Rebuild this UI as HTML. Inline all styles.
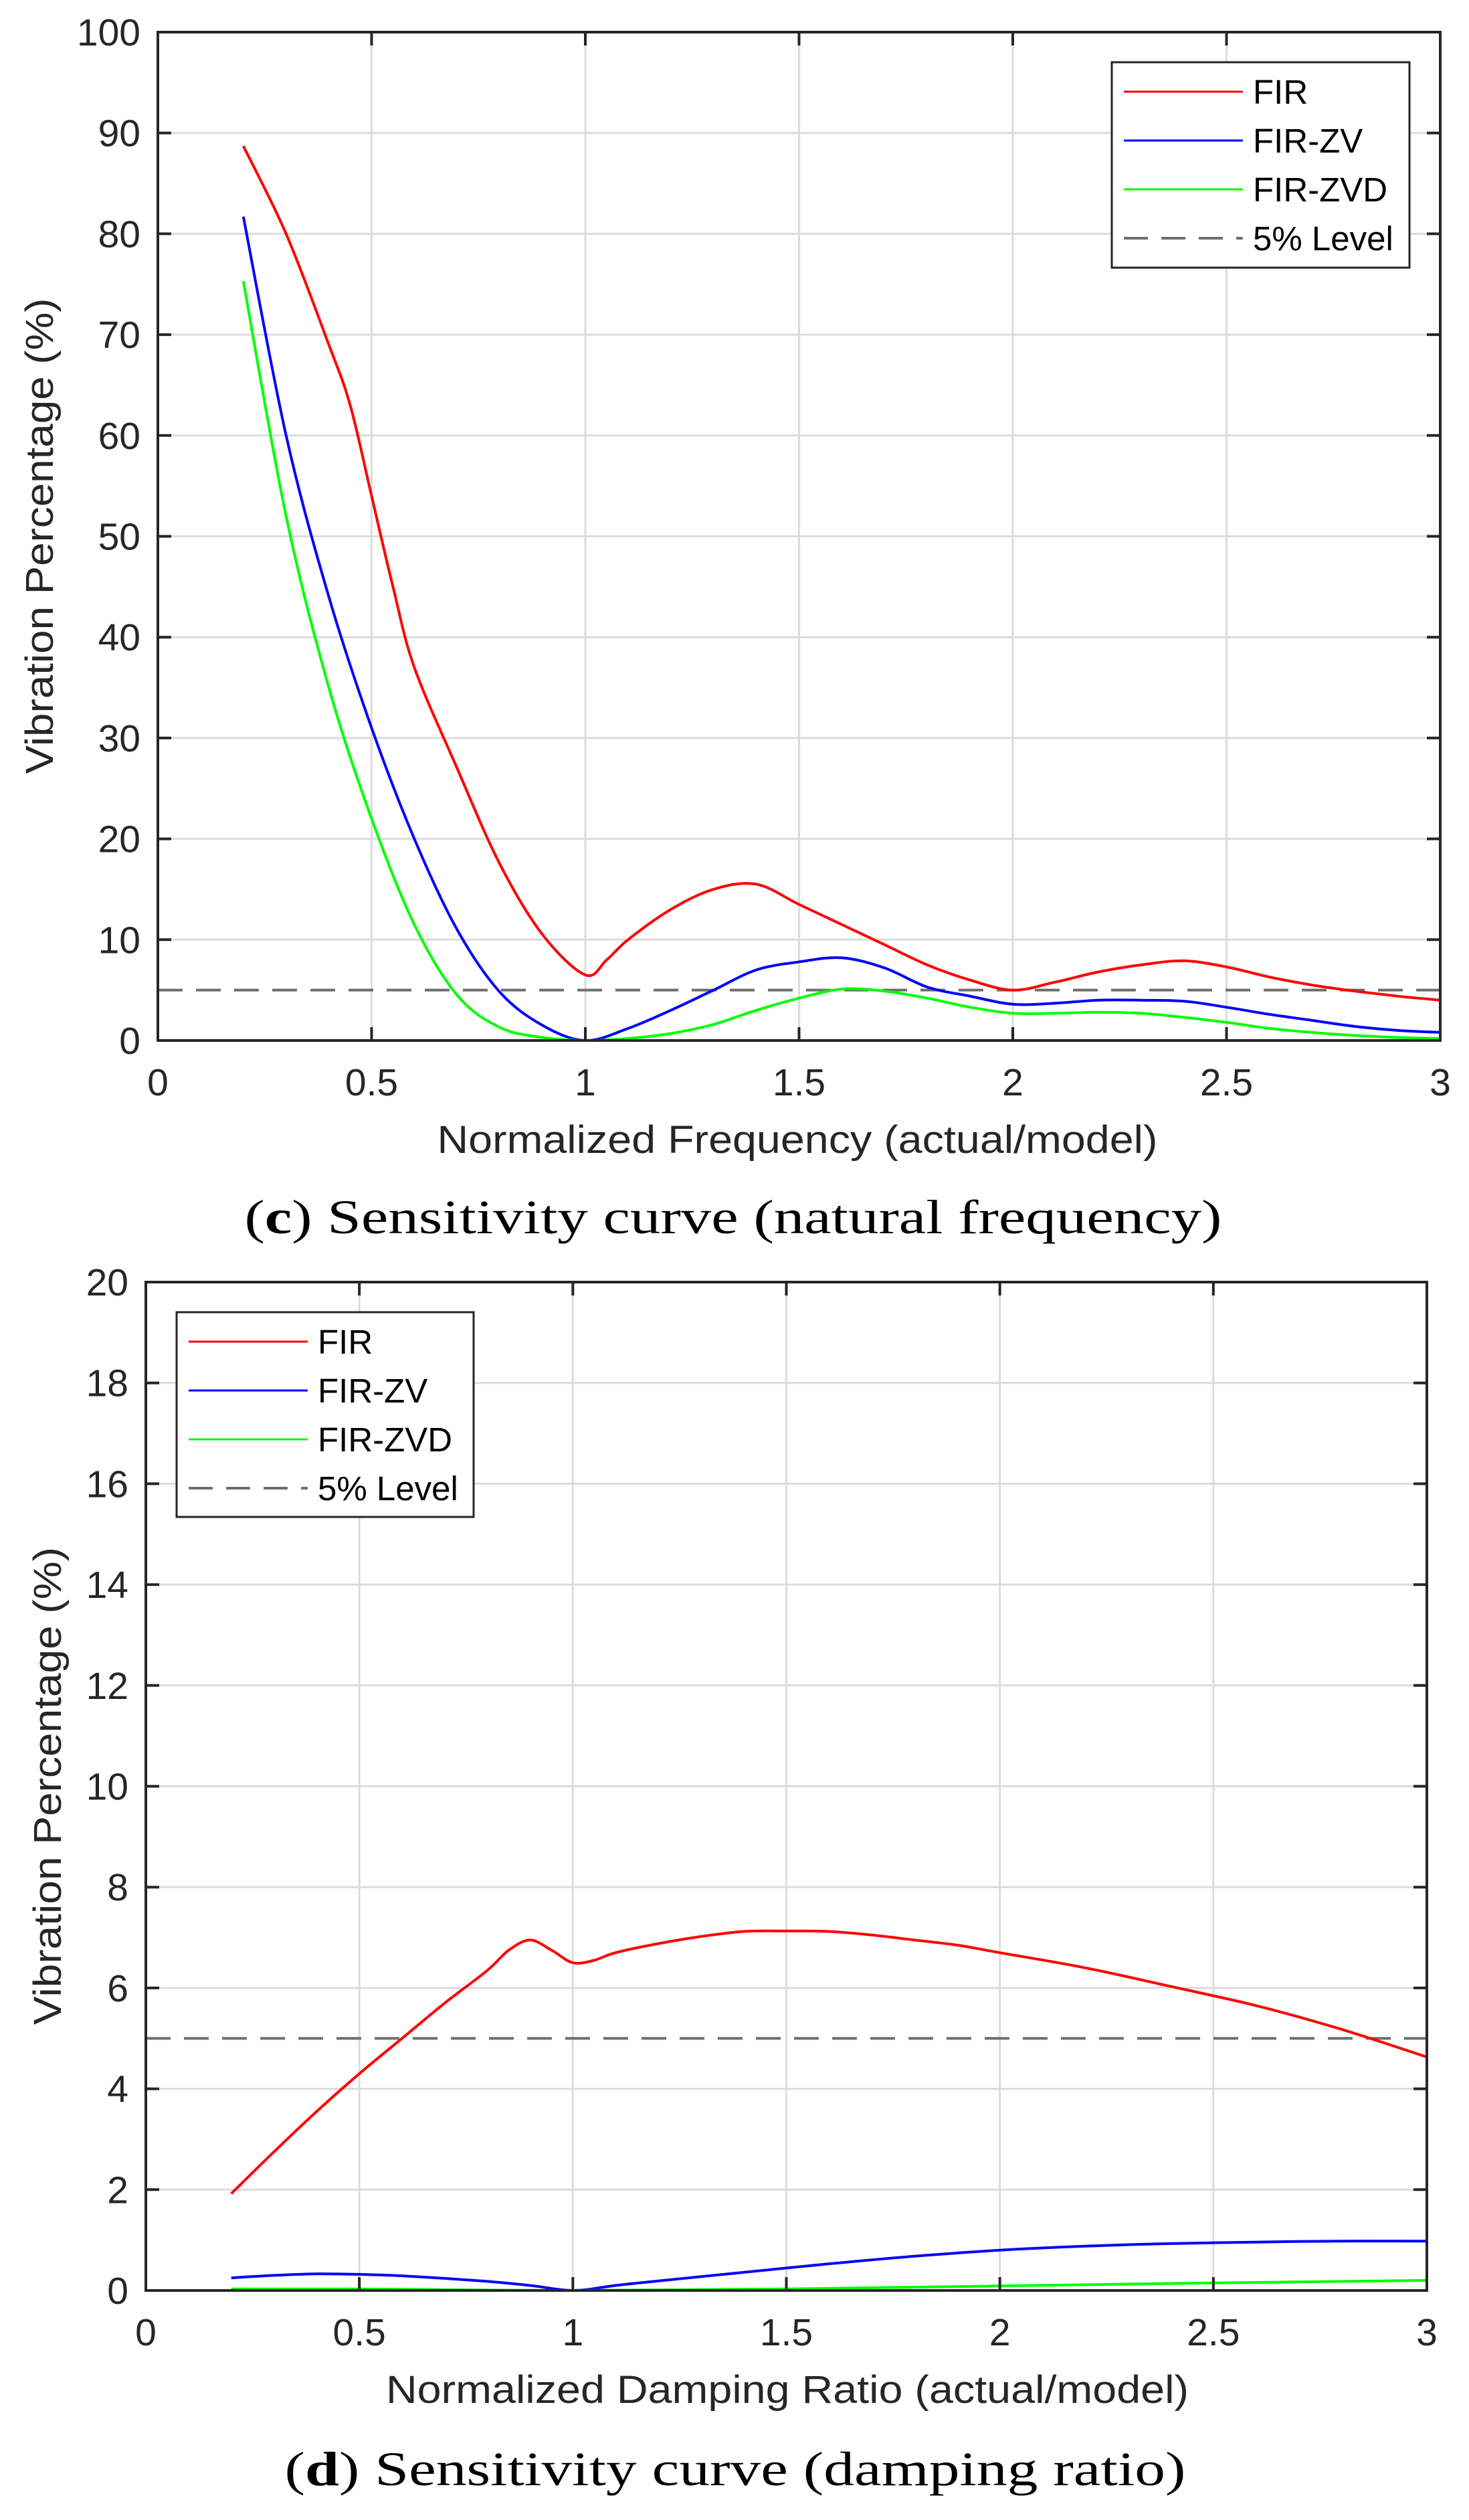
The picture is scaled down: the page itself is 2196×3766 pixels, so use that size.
<!DOCTYPE html>
<html><head><meta charset="utf-8"><style>
html,body{margin:0;padding:0;background:#fff;}
svg{display:block;}
</style></head>
<body>
<svg id="fig" width="2196" height="3766" xmlns="http://www.w3.org/2000/svg" font-family="'Liberation Sans', sans-serif"></svg>
<script>
// ---- Chart (c) data: natural frequency ----
const cX = [0.2,0.3,0.4,0.45,0.5,0.55,0.6,0.7,0.8,0.9,1.0,1.05,1.1,1.2,1.3,1.4,1.5,1.6,1.7,1.8,1.9,2.0,2.1,2.2,2.3,2.4,2.5,2.6,2.7,2.8,2.9,3.0];
const cFIR = [88.7,80,69,63,54,45,37,27,17.5,10.5,6.5,8,10,13,15,15.5,13.5,11.5,9.5,7.5,6,5,5.8,6.8,7.5,7.9,7.3,6.3,5.5,4.9,4.4,4.0];
const cXb = [0.2,0.3,0.4,0.5,0.6,0.7,0.8,0.9,1.0,1.1,1.2,1.3,1.4,1.5,1.6,1.7,1.8,1.9,2.0,2.1,2.2,2.3,2.4,2.5,2.6,2.7,2.8,2.9,3.0];
const cZV = [81.7,60,44,31,20,11,4.8,1.5,0,1.2,3,5,7,7.8,8.2,7.2,5.3,4.4,3.6,3.7,4.0,4.0,3.9,3.3,2.6,2.0,1.4,1.0,0.8];
const cZVD = [75.3,52,35,22,11.5,4.5,1.3,0.3,0,0.2,0.7,1.6,3,4.2,5.1,4.9,4.2,3.3,2.7,2.7,2.8,2.7,2.3,1.8,1.2,0.8,0.5,0.3,0.2];
const cYTicks = [0,10,20,30,40,50,60,70,80,90,100];
const xTicks = [0,0.5,1,1.5,2,2.5,3];
const xTickLabels = ["0","0.5","1","1.5","2","2.5","3"];
// ---- Chart (d) data: damping ratio ----
const dXa = [0.2,0.3,0.4,0.5,0.6,0.7,0.8,0.85,0.9,0.95,1.0,1.05,1.1,1.2,1.3,1.4,1.5,1.6,1.7,1.8,1.9,2.0,2.2,2.4,2.6,2.8,3.0];
const dFIR = [1.92,2.75,3.55,4.3,5.0,5.7,6.35,6.75,6.95,6.75,6.5,6.55,6.7,6.88,7.02,7.12,7.13,7.12,7.05,6.95,6.85,6.7,6.4,6.03,5.65,5.18,4.63];
const dXb = [0.2,0.3,0.4,0.5,0.6,0.7,0.8,0.9,1.0,1.1,1.2,1.4,1.6,1.8,2.0,2.2,2.4,2.6,2.8,3.0];
const dZV = [0.25,0.3,0.33,0.32,0.29,0.24,0.18,0.1,0,0.1,0.19,0.36,0.53,0.68,0.8,0.88,0.93,0.96,0.98,0.98];
const dXc = [0.2,0.5,1.0,1.5,2.0,2.5,3.0];
const dZVD = [0.03,0.03,0,0.03,0.09,0.15,0.2];
const dYTicks = [0,2,4,6,8,10,12,14,16,18,20];
const levelValue = 5;
const legendNames = ["FIR","FIR-ZV","FIR-ZVD","5% Level"];

const NS = "http://www.w3.org/2000/svg";
const svg = document.getElementById('fig');
function el(tag, attrs, parent, text){
  const e = document.createElementNS(NS, tag);
  for (const k in attrs) e.setAttribute(k, attrs[k]);
  if (text !== undefined) e.textContent = text;
  (parent||svg).appendChild(e);
  return e;
}
function smoothPath(pts){
  let d = "M"+pts[0][0].toFixed(1)+","+pts[0][1].toFixed(1);
  for (let i=0;i<pts.length-1;i++){
    const p0=pts[Math.max(0,i-1)],p1=pts[i],p2=pts[i+1],p3=pts[Math.min(pts.length-1,i+2)];
    const c1x=p1[0]+(p2[0]-p0[0])/6,c1y=p1[1]+(p2[1]-p0[1])/6;
    const c2x=p2[0]-(p3[0]-p1[0])/6,c2y=p2[1]-(p3[1]-p1[1])/6;
    d+=" C"+c1x.toFixed(1)+","+c1y.toFixed(1)+" "+c2x.toFixed(1)+","+c2y.toFixed(1)+" "+p2[0].toFixed(1)+","+p2[1].toFixed(1);
  }
  return d;
}

function chart(cfg){
  const g = el('g',{});
  
  
  const L=cfg.L,R=cfg.R,T=cfg.T,B=cfg.B,ymax=cfg.ymax;
  const sx = v => L + (v/3)*(R-L);
  const sy = v => B - (v/ymax)*(B-T);
  el('rect',{x:L,y:T,width:R-L,height:B-T,fill:'#fff'},g);
  // grid
  xTicks.forEach((t,i)=>{
    if(i>0 && i<xTicks.length-1){
      const l=el('line',{x1:sx(t),x2:sx(t),y1:T,y2:B,stroke:'#dcdcdc','stroke-width':3},g);
      
      
    }
  });
  cfg.yticks.forEach((t,i)=>{
    if(i>0 && i<cfg.yticks.length-1){
      const l=el('line',{x1:L,x2:R,y1:sy(t),y2:sy(t),stroke:'#dcdcdc','stroke-width':3},g);
      
      
    }
  });
  // level line
  const lv=el('line',{x1:L,x2:R,y1:sy(levelValue),y2:sy(levelValue),stroke:'#6e6e6e','stroke-width':4,'stroke-dasharray':'37 20'},g);
  
  
  // series
  cfg.series.forEach(s=>{
    const pts = s.x.map((xv,i)=>[sx(xv),sy(s.y[i])]);
    const p=el('path',{d:smoothPath(pts),fill:'none',stroke:s.color,'stroke-width':4,'stroke-linejoin':'round'},g);
    
    
  });
  // ticks
  xTicks.forEach((t,i)=>{
    el('line',{x1:sx(t),x2:sx(t),y1:B,y2:B-20,stroke:'#262626','stroke-width':4},g);
    el('line',{x1:sx(t),x2:sx(t),y1:T,y2:T+20,stroke:'#262626','stroke-width':4},g);
    const tx=el('text',{x:sx(t),y:B+82,'font-size':57,fill:'#262626','text-anchor':'middle'},g,xTickLabels[i]);
    
    
  });
  cfg.yticks.forEach(t=>{
    el('line',{x1:L,x2:L+20,y1:sy(t),y2:sy(t),stroke:'#262626','stroke-width':4},g);
    el('line',{x1:R,x2:R-20,y1:sy(t),y2:sy(t),stroke:'#262626','stroke-width':4},g);
    const ty=el('text',{x:L-26,y:sy(t)+20,'font-size':57,fill:'#262626','text-anchor':'end'},g,String(t));
    
    
  });
  const ax=el('rect',{x:L,y:T,width:R-L,height:B-T,fill:'none',stroke:'#262626','stroke-width':4},g);
  
  
  // axis labels
  const xl=el('text',{x:cfg.xlx,y:cfg.xly,'font-size':58,fill:'#262626','text-anchor':'middle',textLength:cfg.xlw,lengthAdjust:'spacingAndGlyphs'},g,cfg.xlabel);
  
  
  const yl=el('text',{x:0,y:0,'font-size':58,fill:'#262626','text-anchor':'middle',textLength:cfg.ylw,lengthAdjust:'spacingAndGlyphs',transform:'translate('+cfg.ylx+','+cfg.yly+') rotate(-90)'},g,'Vibration Percentage (%)');
  
  
  // legend
  const lg=el('g',{},g);
  
  
  el('rect',{x:cfg.lgx,y:cfg.lgy,width:cfg.lgw,height:cfg.lgh,fill:'#fff',stroke:'#262626','stroke-width':3},lg);
  const colors=['#ff0000','#0000ff','#00ff00','#6e6e6e'];
  legendNames.forEach((n,i)=>{
    const y=cfg.lgy+44+i*73;
    const ln=el('line',{x1:cfg.lgx+18,x2:cfg.lgx+196,y1:y,y2:y,stroke:colors[i],'stroke-width':i==3?4:3},lg);
    if(i==3) ln.setAttribute('stroke-dasharray','36 20');
    
    
    const t=el('text',{x:cfg.lgx+211,y:y+18,'font-size':51,fill:'#000'},lg,n);
    
    
  });
  // caption
  const cap=el('text',{x:cfg.capx,y:cfg.capy,'font-size':72,fill:'#000','text-anchor':'middle','font-family':"'Liberation Serif', serif",textLength:cfg.capw,lengthAdjust:'spacingAndGlyphs'},g);
  const tb=document.createElementNS(NS,'tspan'); tb.textContent='('; cap.appendChild(tb);
  const b=document.createElementNS(NS,'tspan'); b.setAttribute('font-weight','bold'); b.textContent=cfg.letter; cap.appendChild(b);
  const rest=document.createElementNS(NS,'tspan'); rest.textContent=') '+cfg.caption; cap.appendChild(rest);
  
  
}

chart({name:'chart-natural-frequency',L:236,R:2153,T:48,B:1555,ymax:100,yticks:cYTicks,
  series:[{name:'fir-line',x:cX,y:cFIR,color:'#ff0000'},{name:'fir-zv-line',x:cXb,y:cZV,color:'#0000ff'},{name:'fir-zvd-line',x:cXb,y:cZVD,color:'#00ff00'}],
  xlabel:'Normalized Frequency (actual/model)',xlx:1192,xly:1723,xlw:1077,
  ylx:79,yly:801,ylw:711,
  lgx:1662,lgy:93,lgw:445,lgh:307,
  capx:1096,capy:1843,capw:1461,letter:'c',caption:'Sensitivity curve (natural frequency)'});

chart({name:'chart-damping-ratio',L:218,R:2133,T:1916,B:3423,ymax:20,yticks:dYTicks,
  series:[{name:'fir-line',x:dXa,y:dFIR,color:'#ff0000'},{name:'fir-zv-line',x:dXb,y:dZV,color:'#0000ff'},{name:'fir-zvd-line',x:dXc,y:dZVD,color:'#00ff00'}],
  xlabel:'Normalized Damping Ratio (actual/model)',xlx:1177,xly:3591,xlw:1200,
  ylx:91,yly:2669,ylw:714,
  lgx:264,lgy:1961,lgw:444,lgh:306,
  capx:1099,capy:3714,capw:1347,letter:'d',caption:'Sensitivity curve (damping ratio)'});
</script>
</body></html>
